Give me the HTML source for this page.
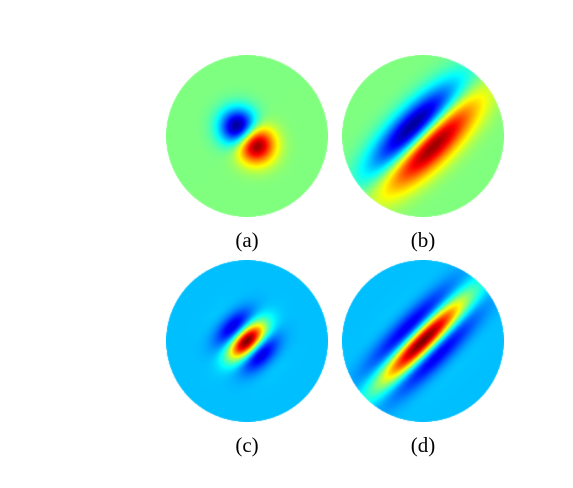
<!DOCTYPE html>
<html><head><meta charset="utf-8"><style>
body{margin:0;background:#fff;width:573px;height:488px;overflow:hidden;position:relative}
canvas{position:absolute}
.lbl{position:absolute;font-family:"Liberation Serif",serif;font-size:21px;color:#000;width:80px;text-align:center;line-height:24px}
</style></head><body>
<canvas id="pa" width="162" height="162" style="left:166px;top:55px"></canvas>
<canvas id="pb" width="162" height="162" style="left:342px;top:55px"></canvas>
<canvas id="pc" width="162" height="162" style="left:166px;top:260px"></canvas>
<canvas id="pd" width="162" height="162" style="left:342px;top:260px"></canvas>
<div class="lbl" style="left:207px;top:228px">(a)</div>
<div class="lbl" style="left:383px;top:228px">(b)</div>
<div class="lbl" style="left:207px;top:433px">(c)</div>
<div class="lbl" style="left:383px;top:433px">(d)</div>
<script>
const ids=["pa","pb","pc","pd"];
const kinds=["odd","odd","even","even"];
const sigmaAcross=[15,15,15,15];
const sigmaAlong=[13,42,16,40];
const wavelength=[0,0,52,54];
const baseLevel=[0.5,0.5,0.3125,0.3125];
const gain=[0.47,0.47,0.6875,0.6875];
function cl(v){return Math.max(0,Math.min(1,v));}
function jet(t){return [cl(1.5-Math.abs(4*t-3)),cl(1.5-Math.abs(4*t-2)),cl(1.5-Math.abs(4*t-1))];}
ids.forEach((id,i)=>{
  const c=document.getElementById(id),ctx=c.getContext('2d');
  const W=162,R=81,img=ctx.createImageData(W,W);
  const s=sigmaAcross[i],L=sigmaAlong[i];
  const norm=kinds[i]==="odd"?s*Math.exp(-0.5):1;
  for(let y=0;y<W;y++)for(let x=0;x<W;x++){
    const dx=x+0.5-R,dy=y+0.5-R,d=Math.hypot(dx,dy),k=(y*W+x)*4;
    if(d>R){img.data[k+3]=0;continue;}
    const u=(dx+dy)/Math.SQRT2,v=(dx-dy)/Math.SQRT2;
    const g=Math.exp(-(u*u/(2*s*s)+v*v/(2*L*L)));
    let f;
    if(kinds[i]==="odd")f=u*g/norm;else f=Math.cos(2*Math.PI*u/wavelength[i])*g;
    const col=jet(cl(baseLevel[i]+gain[i]*f));
    img.data[k]=col[0]*255;img.data[k+1]=col[1]*255;img.data[k+2]=col[2]*255;
    img.data[k+3]=Math.min(1,R-d+0.5)*255;
  }
  ctx.putImageData(img,0,0);
});
</script>
</body></html>
